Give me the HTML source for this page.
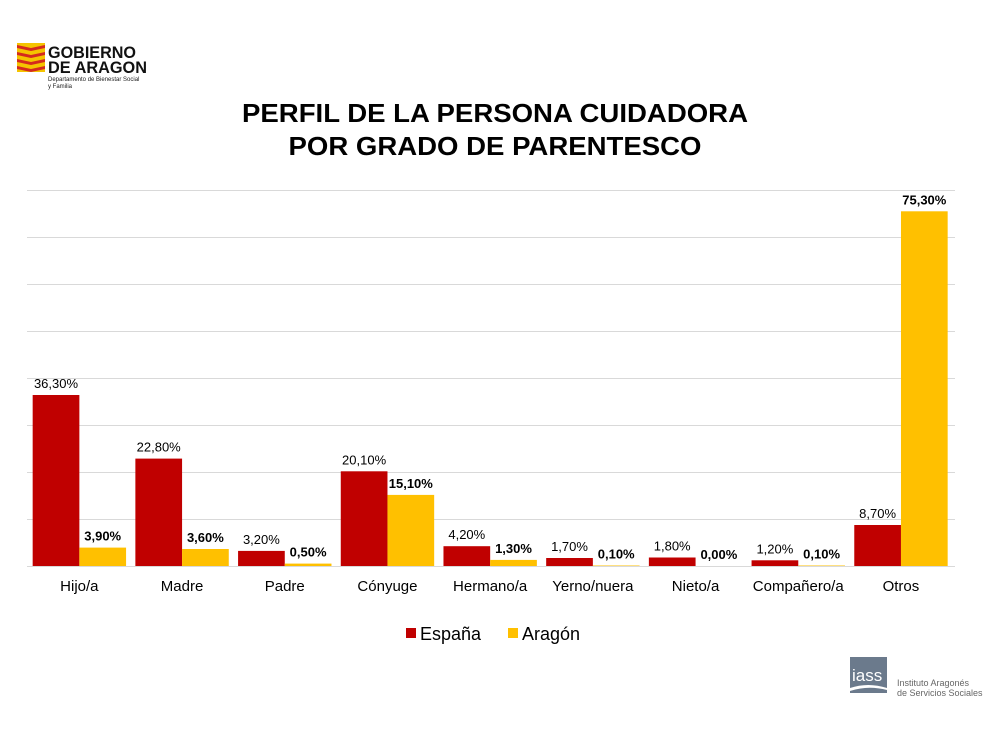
<!DOCTYPE html>
<html><head><meta charset="utf-8"><style>
body{margin:0;background:#fff;}
svg{display:block;font-family:"Liberation Sans",Arial,sans-serif;}
</style></head><body>
<svg width="990" height="743" viewBox="0 0 990 743" xmlns="http://www.w3.org/2000/svg">
<defs><clipPath id="fc"><rect x="17" y="43" width="28" height="29"/></clipPath></defs>
<g clip-path="url(#fc)">
<rect x="17" y="43" width="28" height="29" fill="#f5c400"/>
<path d="M17 45 L31 48 L45 45 L45 48 L31 51 L17 48Z M17 52 L31 55 L45 52 L45 55 L31 58 L17 55Z M17 59 L31 62 L45 59 L45 62 L31 65 L17 62Z M17 66 L31 69 L45 66 L45 69 L31 72 L17 69Z" fill="#d42a1e"/>
</g>
<text x="48" y="58" font-size="17" font-weight="bold" fill="#111" textLength="88" lengthAdjust="spacingAndGlyphs">GOBIERNO</text>
<text x="48" y="73" font-size="17" font-weight="bold" fill="#111" textLength="99" lengthAdjust="spacingAndGlyphs">DE ARAGON</text>
<text x="48" y="81" font-size="6" fill="#222">Departamento de Bienestar Social</text>
<text x="48" y="88" font-size="6" fill="#222">y Familia</text>
<text x="495" y="122" font-size="26" font-weight="bold" text-anchor="middle" fill="#000" textLength="506" lengthAdjust="spacingAndGlyphs">PERFIL DE LA PERSONA CUIDADORA</text>
<text x="495" y="155" font-size="26" font-weight="bold" text-anchor="middle" fill="#000" textLength="413" lengthAdjust="spacingAndGlyphs">POR GRADO DE PARENTESCO</text>
<g stroke="#d9d9d9" stroke-width="1">
<line x1="27" x2="955" y1="190.5" y2="190.5"/><line x1="27" x2="955" y1="237.5" y2="237.5"/>
<line x1="27" x2="955" y1="284.5" y2="284.5"/><line x1="27" x2="955" y1="331.5" y2="331.5"/>
<line x1="27" x2="955" y1="378.5" y2="378.5"/><line x1="27" x2="955" y1="425.5" y2="425.5"/>
<line x1="27" x2="955" y1="472.5" y2="472.5"/><line x1="27" x2="955" y1="519.5" y2="519.5"/>
<line x1="27" x2="955" y1="566.5" y2="566.5"/>
</g>
<g fill="#c00000">
<rect x="32.67" y="395" width="46.7" height="171"/>
<rect x="135.37" y="458.6" width="46.7" height="107.4"/>
<rect x="238.07" y="550.9" width="46.7" height="15.1"/>
<rect x="340.77" y="471.3" width="46.7" height="94.7"/>
<rect x="443.47" y="546.2" width="46.7" height="19.8"/>
<rect x="546.17" y="558" width="46.7" height="8"/>
<rect x="648.87" y="557.5" width="46.7" height="8.5"/>
<rect x="751.57" y="560.3" width="46.7" height="5.7"/>
<rect x="854.27" y="525" width="46.7" height="41"/>
</g>
<g fill="#ffc000">
<rect x="79.37" y="547.6" width="46.7" height="18.4"/>
<rect x="182.07" y="549" width="46.7" height="17"/>
<rect x="284.77" y="563.6" width="46.7" height="2.4"/>
<rect x="387.47" y="494.9" width="46.7" height="71.1"/>
<rect x="490.17" y="559.9" width="46.7" height="6.1"/>
<rect x="592.87" y="565.5" width="46.7" height="0.5"/>
<rect x="798.27" y="565.5" width="46.7" height="0.5"/>
<rect x="900.97" y="211.3" width="46.7" height="354.7"/>
</g>
<g font-size="13" text-anchor="middle" fill="#000">
<text x="56" y="388">36,30%</text>
<text x="158.7" y="451.6">22,80%</text>
<text x="261.4" y="543.9">3,20%</text>
<text x="364.1" y="464.3">20,10%</text>
<text x="466.8" y="539.2">4,20%</text>
<text x="569.5" y="551">1,70%</text>
<text x="672.2" y="550.5">1,80%</text>
<text x="774.9" y="553.3">1,20%</text>
<text x="877.6" y="518">8,70%</text>
</g>
<g font-size="13" font-weight="bold" text-anchor="middle" fill="#000">
<text x="102.7" y="540.6">3,90%</text>
<text x="205.4" y="542">3,60%</text>
<text x="308.1" y="556.6">0,50%</text>
<text x="410.8" y="487.9">15,10%</text>
<text x="513.5" y="552.9">1,30%</text>
<text x="616.2" y="558.5">0,10%</text>
<text x="718.9" y="559">0,00%</text>
<text x="821.6" y="558.5">0,10%</text>
<text x="924.3" y="204.3">75,30%</text>
</g>
<g font-size="15" text-anchor="middle" fill="#000">
<text x="79.35" y="591">Hijo/a</text>
<text x="182.05" y="591">Madre</text>
<text x="284.75" y="591">Padre</text>
<text x="387.45" y="591">Cónyuge</text>
<text x="490.15" y="591">Hermano/a</text>
<text x="592.85" y="591">Yerno/nuera</text>
<text x="695.55" y="591">Nieto/a</text>
<text x="798.25" y="591">Compañero/a</text>
<text x="900.95" y="591">Otros</text>
</g>
<rect x="406" y="628" width="10" height="10" fill="#c00000"/>
<text x="420" y="640" font-size="18" fill="#000">España</text>
<rect x="508" y="628" width="10" height="10" fill="#ffc000"/>
<text x="522" y="640" font-size="18" fill="#000">Aragón</text>
<rect x="850" y="657" width="37" height="36" fill="#6b7a8c"/>
<text x="852" y="681" font-size="17" fill="#fff">iass</text>
<path d="M850 688 Q868 682 887 688 L887 690 Q868 685 850 691Z" fill="#fff"/>
<text x="897" y="686" font-size="9" fill="#666">Instituto Aragonés</text>
<text x="897" y="696" font-size="9" fill="#666">de Servicios Sociales</text>
</svg>
</body></html>
